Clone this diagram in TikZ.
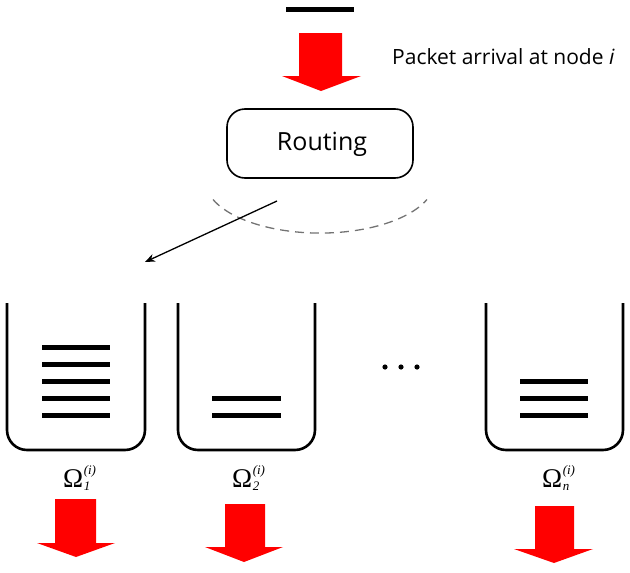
\documentclass[tikz,border=0pt]{standalone}
\usepackage{fontspec}
\setmainfont{Open Sans}
\newfontfamily\tmsfont{Liberation Serif}
\usetikzlibrary{arrows.meta}
\newcommand\omlab[1]{{\fontsize{27}{27}\selectfont Ω}\kern0.5pt\raisebox{-3pt}{\vbox{\fontsize{13}{16}\selectfont\itshape\baselineskip=16pt\lineskiplimit=-100pt\hbox{(i)}\hbox{#1}}}}
\begin{document}
\begin{tikzpicture}[x=1pt,y=-1pt,
  redarrow/.style={fill=red,draw=none},
  bucket/.style={draw=black,line width=2.6pt,rounded corners=20pt},
  item/.style={draw=black,line width=5pt},
  lbl/.style={inner sep=0pt,anchor=base west,font=\tmsfont}]
\useasboundingbox (0,0) rectangle (630,573);
% top bar
\draw[item] (286,9) -- (354,9);
% top red arrow
\fill[redarrow] (299,33) -- (342,33) -- (342,76) -- (361,76) -- (321,91) -- (282,76) -- (299,76) -- cycle;
\node[anchor=base west,inner sep=0pt,font=\fontsize{21}{24}\selectfont] (pkt) at (392,64) {Packet arrival at node \textit{i}};
% routing
\node[draw=black,line width=1.6pt,rounded corners=18pt,minimum width=186pt,minimum height=69pt,inner sep=0pt] (routing) at (320,143.5) {};
\node[anchor=base,inner sep=0pt,font=\fontsize{25}{28}\selectfont] (rtxt) at (322,150) {Routing};
% dashed arc
\draw[draw=black!55,line width=1.3pt,dash pattern=on 9pt off 6pt] (213,199.5) arc[start angle=158.5,end angle=21.5,x radius=115,y radius=53];
% solid arrow
\coordinate (a0) at (277,201);
\coordinate (a1) at (145,262);
\draw[line width=1.3pt,-{Stealth[length=10pt,width=8pt]}] (a0) -- (a1);
% buckets
\draw[bucket] (7,303) -- (7,450) -- (145,450) -- (145,303);
\draw[bucket] (178,303) -- (178,450) -- (315,450) -- (315,303);
\draw[bucket] (486,303) -- (486,450) -- (623,450) -- (623,303);
% items
\foreach \y in {347,364,381,398,415} \draw[item] (42,\y) -- (110,\y);
\foreach \y in {398,415} \draw[item] (212,\y) -- (281,\y);
\foreach \y in {381,398,415} \draw[item] (520,\y) -- (588,\y);
% dots
\foreach \x in {385,401,417} \fill (\x,367) circle (2.6pt);
% labels
\node[lbl] (o1) at (63,487) {\omlab{1}};
\node[lbl] (o2) at (232,487) {\omlab{2}};
\node[lbl] (on) at (542,487) {\omlab{n}};
% bottom red arrows
\fill[redarrow] (55,499) -- (96,499) -- (96,543) -- (115,543) -- (76,557) -- (37,543) -- (55,543) -- cycle;
\fill[redarrow] (225,504) -- (265,504) -- (265,547) -- (283,547) -- (244,562) -- (205,547) -- (225,547) -- cycle;
\fill[redarrow] (535,506) -- (574,506) -- (574,549) -- (593,549) -- (554,563) -- (514,549) -- (535,549) -- cycle;
\end{tikzpicture}
\end{document}
